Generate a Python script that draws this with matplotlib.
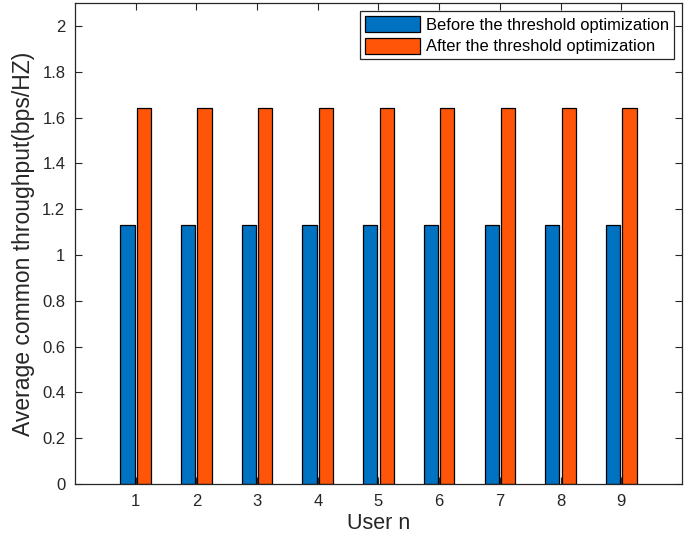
import numpy as np
import matplotlib.pyplot as plt

# Data
users = [1, 2, 3, 4, 5, 6, 7, 8, 9]
before_opt = [1.13, 1.13, 1.13, 1.13, 1.13, 1.13, 1.13, 1.13, 1.13]
after_opt = [1.64, 1.64, 1.64, 1.64, 1.64, 1.64, 1.64, 1.64, 1.64]
series_labels = ['Before the threshold optimization', 'After the threshold optimization']

plt.rcParams['font.family'] = ['Liberation Sans', 'DejaVu Sans']

fig = plt.figure(figsize=(6.85, 5.34), dpi=100)
ax = fig.add_axes([0.1095, 0.0936, 0.886, 0.9008])

x = np.array(users)
w = 0.235
off = 0.135
ax.bar(x - off, before_opt, w, color='#0072C2', edgecolor='black', linewidth=0.9,
       label=series_labels[0])
ax.bar(x + off, after_opt, w, color='#FF5508', edgecolor='black', linewidth=0.9,
       label=series_labels[1])

ax.set_xlim(0, 10)
ax.set_ylim(0, 2.1)
ax.set_xticks(users)
ax.set_yticks(np.arange(0, 2.01, 0.2))
ax.set_yticklabels(['0', '0.2', '0.4', '0.6', '0.8', '1', '1.2', '1.4', '1.6', '1.8', '2'])

ax.tick_params(direction='in', top=True, right=True, length=5, width=0.8,
               labelsize=12, colors='#262626', labelcolor='#262626', pad=7)
for s in ax.spines.values():
    s.set_color('#262626')
    s.set_linewidth(0.9)

ax.set_xlabel('User n', fontsize=15.5, color='#262626', labelpad=3)
ax.set_ylabel('Average common throughput(bps/HZ)', fontsize=16.5, color='#262626', labelpad=5)

leg = ax.legend(loc='upper right', fontsize=11.9, handlelength=3.3, handleheight=1.1,
                fancybox=False, edgecolor='#262626', framealpha=1,
                borderpad=0.3, labelspacing=0.3, handletextpad=0.35,
                borderaxespad=0.5)
leg.get_frame().set_linewidth(0.9)

fig.savefig('out.png', dpi=100)
